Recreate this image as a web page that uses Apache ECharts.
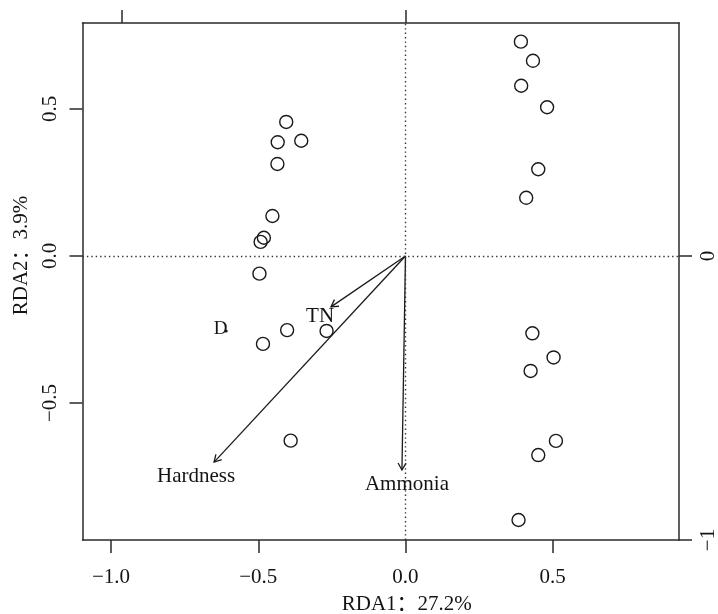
<!DOCTYPE html>
<html><head><meta charset="utf-8">
<script src="https://cdn.jsdelivr.net/npm/echarts@6/dist/echarts.min.js"></script>
<style>html,body{margin:0;padding:0;background:#fff}#c{width:718px;height:614px}</style>
</head><body><div id="c"></div>
<script>
// ---- data ----
const siteX = [0.392, 0.433, 0.393, 0.481, 0.451, 0.410, 0.431, 0.503, 0.425, 0.511, 0.451, 0.384,
               -0.405, -0.434, -0.354, -0.435, -0.452, -0.481, -0.492, -0.496, -0.402, -0.268, -0.484, -0.390];
const siteY = [0.729, 0.664, 0.579, 0.506, 0.295, 0.198, -0.263, -0.345, -0.391, -0.629, -0.677, -0.898,
               0.456, 0.387, 0.392, 0.313, 0.136, 0.062, 0.048, -0.060, -0.252, -0.255, -0.299, -0.628];
const arrowNames = ['TN', 'Hardness', 'Ammonia'];
const arrowX = [-0.253, -0.650, -0.012];
const arrowY = [-0.173, -0.701, -0.728];
const arrowLabelX = [-0.290, -0.711, 0.005];
const arrowLabelY = [-0.206, -0.751, -0.776];
const centroidNames = ['D'];
const centroidX = [-0.609];
const centroidY = [-0.255];
const centroidLabelX = [-0.628];
const centroidLabelY = [-0.248];
const xTicks = [-1, -0.5, 0, 0.5];
const yTicks = [-0.5, 0, 0.5];
const topTicks = [-1, 0];
const rightTicks = [-1, 0];
const xRange = [-1.097, 0.929];
const yRange = [-0.966, 0.7925];
const topRange = [-1.138, 0.962];
const rightRange = [-1.0, 0.820];
const xTitle = 'RDA1：27.2%';
const yTitle = 'RDA2：3.9%';

// ---- chart ----
const FONT = "'Liberation Serif', 'Noto Sans CJK SC', serif";
const INK = '#141414';
const fmt1 = v => (v < 0 ? '\u2212' : '') + Math.abs(v).toFixed(1);
const fmt0 = v => (v < 0 ? '\u2212' : '') + Math.abs(v).toFixed(0);
const lineStyle = { color: '#2a2a2a', width: 1.5 };
const tick = { show: true, length: 13, lineStyle: { color: '#2a2a2a', width: 1.5 } };

const chart = echarts.init(document.getElementById('c'), null, { renderer: 'canvas' });
chart.setOption({
  backgroundColor: '#fff',
  animation: false,
  textStyle: { fontFamily: FONT },
  grid: { left: 82.5, right: 39, top: 23, bottom: 74, outerBoundsMode: 'none' },
  xAxis: [{
    type: 'value', position: 'bottom', min: xRange[0], max: xRange[1],
    axisLine: { show: true, onZero: false, lineStyle },
    axisTick: Object.assign({ customValues: xTicks }, tick),
    axisLabel: { customValues: xTicks, formatter: fmt1, fontFamily: FONT, fontSize: 21, color: INK, margin: 27 },
    splitLine: { show: false },
    name: xTitle, nameLocation: 'middle', nameGap: 54,
    nameTextStyle: { fontFamily: FONT, fontSize: 21, color: INK, padding: [0, 0, 0, 52] }
  }, {
    type: 'value', position: 'top', min: topRange[0], max: topRange[1],
    axisLine: { show: true, onZero: false, lineStyle },
    axisTick: Object.assign({ customValues: topTicks }, tick),
    axisLabel: { show: false, customValues: topTicks },
    splitLine: { show: false }
  }],
  yAxis: [{
    type: 'value', position: 'left', min: yRange[0], max: yRange[1],
    axisLine: { show: true, onZero: false, lineStyle },
    axisTick: Object.assign({ customValues: yTicks }, tick),
    axisLabel: { customValues: yTicks, formatter: fmt1, rotate: 90, fontFamily: FONT, fontSize: 21, color: INK, margin: 22 },
    splitLine: { show: false },
    name: yTitle, nameLocation: 'middle', nameGap: 49, nameRotate: 90,
    nameTextStyle: { fontFamily: FONT, fontSize: 21, color: INK, padding: [0, 0, 0, 52] }
  }, {
    type: 'value', position: 'right', min: rightRange[0], max: rightRange[1],
    axisLine: { show: true, onZero: false, lineStyle },
    axisTick: Object.assign({ customValues: rightTicks }, tick),
    axisLabel: { customValues: rightTicks, formatter: fmt0, rotate: 90, fontFamily: FONT, fontSize: 21, color: INK, margin: 19 },
    splitLine: { show: false }
  }],
  series: [
    {
      type: 'scatter', xAxisIndex: 0, yAxisIndex: 0,
      data: siteX.map((x, i) => [x, siteY[i]]),
      symbol: 'circle', symbolSize: 13,
      itemStyle: { color: 'rgba(0,0,0,0)', borderColor: '#1a1a1a', borderWidth: 1.4, opacity: 1 },
      markLine: {
        silent: true, symbol: 'none', animation: false,
        label: { show: false },
        lineStyle: { color: '#333', width: 1.4, type: [1.4, 3] },
        data: [{ xAxis: 0 }, { yAxis: 0 }]
      },
      z: 3
    },
    {
      type: 'custom', xAxisIndex: 0, yAxisIndex: 0,
      data: arrowX.map((x, i) => [x, arrowY[i]]),
      renderItem: function (params, api) {
        const o = api.coord([0, 0]);
        const h = api.coord([api.value(0), api.value(1)]);
        const ang = Math.atan2(h[1] - o[1], h[0] - o[0]);
        const L = 8, a = Math.PI / 6;
        const p1 = [h[0] - L * Math.cos(ang - a), h[1] - L * Math.sin(ang - a)];
        const p2 = [h[0] - L * Math.cos(ang + a), h[1] - L * Math.sin(ang + a)];
        const st = { stroke: '#1a1a1a', lineWidth: 1.3, fill: null };
        return {
          type: 'group',
          children: [
            { type: 'line', shape: { x1: o[0], y1: o[1], x2: h[0], y2: h[1] }, style: st },
            { type: 'polyline', shape: { points: [p1, h, p2] }, style: st }
          ]
        };
      },
      z: 4
    },
    {
      type: 'scatter', xAxisIndex: 0, yAxisIndex: 0,
      data: arrowLabelX.map((x, i) => ({ name: arrowNames[i], value: [x, arrowLabelY[i]] }))
        .concat(centroidLabelX.map((x, i) => ({ name: centroidNames[i], value: [x, centroidLabelY[i]],
          label: { fontSize: 19 } }))),
      symbolSize: 1, itemStyle: { color: 'rgba(0,0,0,0)', opacity: 1 },
      label: { show: true, position: 'inside', formatter: p => p.name, fontFamily: FONT, fontSize: 21, color: INK, opacity: 1 },
      z: 5
    },
    {
      type: 'scatter', xAxisIndex: 0, yAxisIndex: 0,
      data: centroidX.map((x, i) => [x, centroidY[i]]),
      symbol: 'circle', symbolSize: 3, itemStyle: { color: INK, opacity: 1 },
      z: 5
    }
  ]
});
</script>
</body></html>
